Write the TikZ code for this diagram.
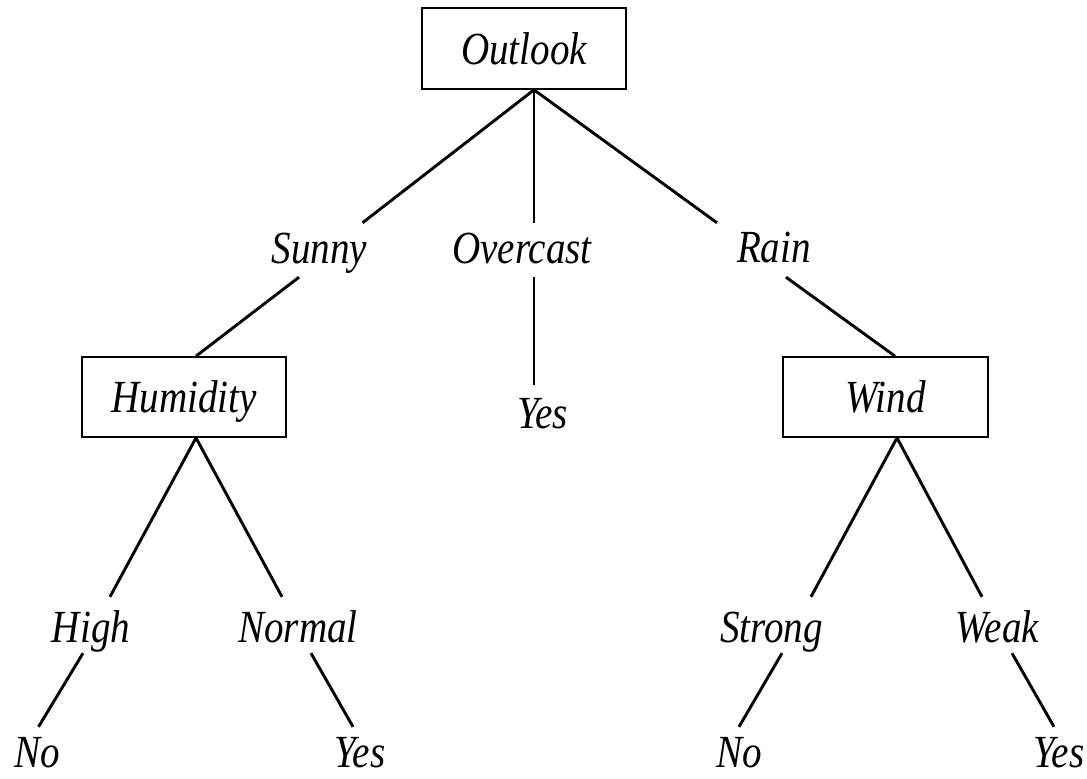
\documentclass[tikz,border=0pt]{standalone}
\usepackage{fontspec}
\setmainfont{Liberation Serif}[FakeStretch=0.85]
\usetikzlibrary{calc}
\begin{document}
\begin{tikzpicture}[x=1pt,y=-1pt,
  lbl/.style={inner xsep=0pt, inner ysep=12pt, text height=31pt, text depth=1pt, anchor=base,
    font=\fontsize{46}{50}\selectfont\itshape},
  leaf/.style={lbl, inner ysep=0pt, text depth=0pt},
  box/.style={draw, line width=1.7pt, inner sep=0pt, minimum height=80pt, minimum width=204pt,
    text height=31pt, text depth=0pt, font=\fontsize{46}{50}\selectfont\itshape},
  edge/.style={line width=2.9pt},
  thinedge/.style={line width=1.3pt}]
\useasboundingbox (0,0) rectangle (1087,779);
% boxes
\node[box, minimum height=81pt] (outlook) at (524,48.5) {Outlook};
\node[box] (humidity) at (184,397) {Humidity};
\node[box, minimum width=205pt] (wind) at (885.5,397) {Wind};
% labels
\node[lbl] (sunny) at (319.5,263) {Sunny};
\node[lbl] (overcast) at (522,263) {Overcast};
\node[lbl] (rain) at (774,262) {Rain};
\node[lbl] (yesA) at (542.5,428) {Yes};
\node[lbl] (high) at (91,642) {High};
\node[lbl] (normal) at (298,642) {Normal};
\node[lbl] (strong) at (771.5,642) {Strong};
\node[lbl] (weak) at (997.5,642) {Weak};
\node[leaf] (noA) at (37.5,767) {No};
\node[leaf] (yesB) at (360,767) {Yes};
\node[leaf] (noB) at (739.5,767) {No};
\node[leaf] (yesC) at (1059,767) {Yes};
% connectors
\draw[edge] ($(outlook.south)+(10,0)$) -- ($(sunny.north)+(43,3)$);
\draw[thinedge] ($(outlook.south)+(10,0)$) -- ($(overcast.north)+(12,3)$);
\draw[edge] ($(outlook.south)+(10,0)$) -- ($(rain.north)+(-57,4)$);
\draw[edge] ($(sunny.south)+(-20.5,1)$) -- ($(humidity.north)+(12,0)$);
\draw[thinedge] ($(overcast.south)+(12,1)$) -- ($(yesA.north)+(-8.5,0)$);
\draw[edge] ($(rain.south)+(12,2)$) -- ($(wind.north)+(9.5,0)$);
\draw[edge] ($(humidity.south)+(12,0)$) -- ($(high.north)+(19,-2)$);
\draw[edge] ($(humidity.south)+(12,0)$) -- ($(normal.north)+(-16,-2)$);
\draw[edge] ($(wind.south)+(11.5,0)$) -- ($(strong.north)+(39.5,-2)$);
\draw[edge] ($(wind.south)+(11.5,0)$) -- ($(weak.north)+(-15.5,-2)$);
\draw[edge] ($(high.south)+(-8,-2)$) -- ($(noA.north)+(1,-9)$);
\draw[edge] ($(normal.south)+(13,-2)$) -- ($(yesB.north)+(-7,-9)$);
\draw[edge] ($(strong.south)+(10.5,-2)$) -- ($(noB.north)+(-0.5,-9)$);
\draw[edge] ($(weak.south)+(14.5,-2)$) -- ($(yesC.north)+(-5,-9)$);
\end{tikzpicture}
\end{document}
